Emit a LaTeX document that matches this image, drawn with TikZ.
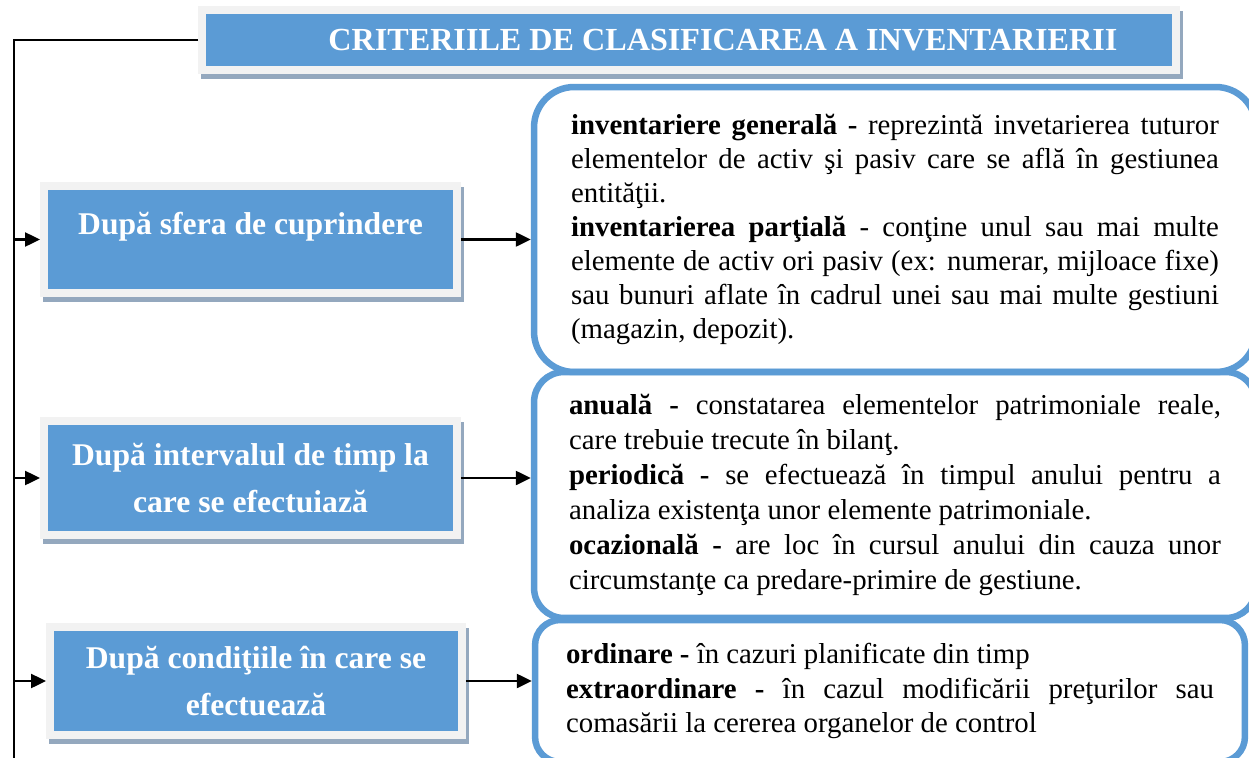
\documentclass[tikz,border=0pt]{standalone}
\usepackage{fontspec}
\setmainfont{Liberation Serif}
\usetikzlibrary{arrows.meta}
\definecolor{critblue}{RGB}{91,155,213}
\definecolor{critframe}{RGB}{242,242,242}
\definecolor{critshadow}{RGB}{148,168,190}
\hyphenpenalty=10000
\tolerance=9000

\begin{document}
\begin{tikzpicture}[x=0.02cm,y=-0.02cm,
  critbox/.style={fill=critblue, draw=critframe, line width=0.16cm,
    preaction={draw=critshadow, fill=critshadow, transform canvas={xshift=0.06cm,yshift=-0.1cm}},
    text=white, font=\bfseries\fontsize{18}{26.5}\selectfont, align=center, inner sep=0pt},
  critnote/.style={draw=critblue, line width=0.13cm, align=justify, inner sep=0pt,
    font=\fontsize{16.4}{19.4}\selectfont},
  link/.style={line width=1.3pt, -{Triangle[length=0.3cm,width=0.28cm]}}]
\useasboundingbox[fill=white] (0,0) rectangle (1249,758);

% casetele din dreapta
\node[critnote, rounded corners=0.8cm, minimum width=14.44cm, minimum height=5.7cm, text width=12.96cm] (sferanote) at (895,229.5)
  {\textbf{inventariere generală -} reprezintă invetarierea tuturor\linebreak
   elementelor de activ şi pasiv care se află în gestiunea\linebreak
   entităţii.\par
   \textbf{inventarierea parţială} - conţine unul sau mai multe\linebreak
   elemente de activ ori pasiv (ex: numerar, mijloace fixe)\linebreak
   sau bunuri aflate în cadrul unei sau mai multe gestiuni\linebreak
   (magazin, depozit).};
\node[critnote, rounded corners=0.6cm, minimum width=14.44cm, minimum height=4.92cm, text width=13.04cm,
  font=\fontsize{16.4}{20}\selectfont] (intervalnote) at (895,495)
  {\textbf{anuală -} constatarea elementelor patrimoniale reale,\linebreak
   care trebuie trecute în bilanţ.\par
   \textbf{periodică -} se efectuează în timpul anului pentru a\linebreak
   analiza existenţa unor elemente patrimoniale.\par
   \textbf{ocazională -} are loc în cursul anului din cauza unor\linebreak
   circumstanţe ca predare-primire de gestiune.};
\node[critnote, rounded corners=0.5cm, minimum width=14.2cm, minimum height=2.84cm, text width=12.96cm] (conditiinote) at (890,691)
  {\textbf{ordinare -} în cazuri planificate din timp\par
   \textbf{extraordinare -} în cazul modificării preţurilor sau\linebreak
   comasării la cererea organelor de control};

% titlul si criteriile
\node[critbox, minimum width=19.48cm, minimum height=1.2cm, font=\bfseries\fontsize{18.3}{20}\selectfont] (titlu) at (689,40)
  {\hspace*{1.36cm}CRITERIILE DE CLASIFICAREA A INVENTARIERII};
\node[critbox, minimum width=8.26cm, minimum height=2.14cm, text depth=0.63cm] (sfera) at (250.5,239.5) {După sfera de cuprindere};
\node[critbox, minimum width=8.26cm, minimum height=2.28cm] (interval) at (250.5,478) {După intervalul de timp la\\care se efectuiază};
\node[critbox, minimum width=8.24cm, minimum height=2.16cm] (conditii) at (256,681) {După condiţiile în care se\\efectuează};

% legaturi
\coordinate (spinejos) at (14,758);
\draw[line width=1.3pt] (titlu.west) -| (spinejos);
\foreach \b in {sfera,interval,conditii}
  \draw[link] (spinejos |- \b.west) -- (\b.west);
\draw[link] (sfera.east) -- (sfera.east -| sferanote.west);
\draw[link] (interval.east) -- (interval.east -| intervalnote.west);
\draw[link] (conditii.east) -- (conditii.east -| conditiinote.west);
\end{tikzpicture}
\end{document}
